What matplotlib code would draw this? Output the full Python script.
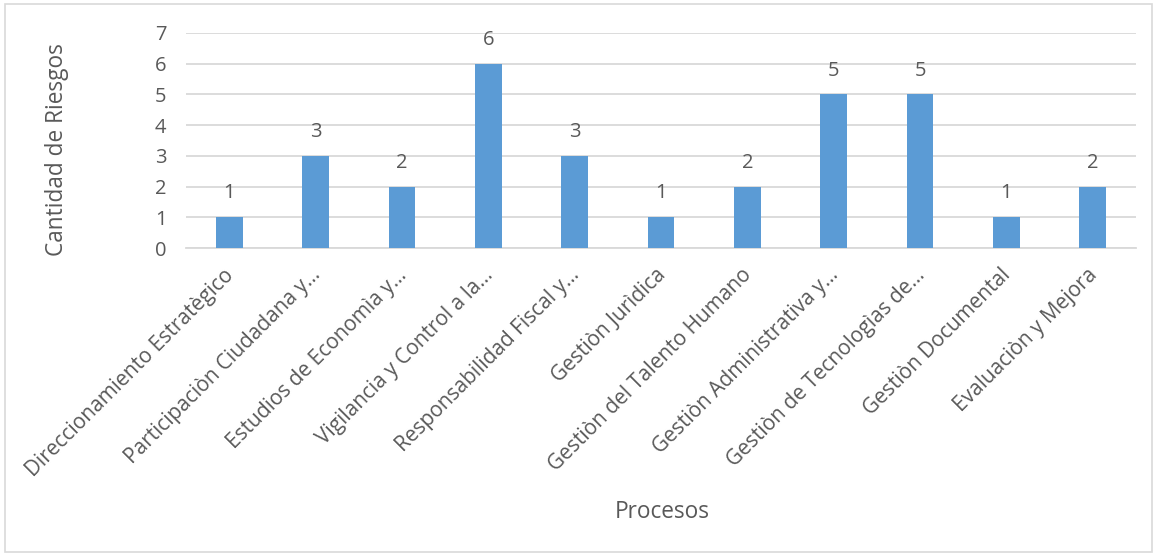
import matplotlib
matplotlib.use("Agg")
import matplotlib.pyplot as plt
from matplotlib.patches import Rectangle
from matplotlib.transforms import ScaledTranslation

categories = [
    "Direccionamiento Estratègico",
    "Participaciòn Ciudadana y...",
    "Estudios de Economìa y...",
    "Vigilancia y Control a la...",
    "Responsabilidad Fiscal y...",
    "Gestiòn Jurìdica",
    "Gestiòn del Talento Humano",
    "Gestiòn Administrativa y...",
    "Gestiòn de Tecnologìas de...",
    "Gestiòn Documental",
    "Evaluaciòn y Mejora",
]
values = [1, 3, 2, 6, 3, 1, 2, 5, 5, 1, 2]
yticks = [0, 1, 2, 3, 4, 5, 6, 7]

plt.rcParams['font.family'] = ['Open Sans', 'DejaVu Sans']
txt = '#595959'
grid = '#D9D9D9'
bar_c = '#5B9BD5'

W, H = 1158, 556
fig = plt.figure(figsize=(W/100, H/100), dpi=100)
fig.patches.append(Rectangle((5/W, 4/H), 1147/W, 548/H, transform=fig.transFigure,
                             fill=False, edgecolor=grid, linewidth=1.2))
ax = fig.add_axes([186/W, 1-248/H, 950/W, 215/H])
x = list(range(len(categories)))
bars = ax.bar(x, values, width=0.31, color=bar_c, zorder=3)
ax.set_xlim(-0.5, len(categories)-0.5)
ax.set_ylim(0, 7)
ax.set_yticks(yticks)
ax.set_yticklabels([str(t) for t in yticks], fontsize=14.5, color=txt)
ax.yaxis.grid(True, color=grid, linewidth=1.3, zorder=0)
for s in ['top', 'right', 'left']:
    ax.spines[s].set_visible(False)
ax.spines['bottom'].set_color(grid)
ax.spines['bottom'].set_linewidth(1.3)
ax.tick_params(axis='both', length=0)
ax.tick_params(axis='y', pad=14)
ax.set_xticks(x)
ax.set_xticklabels(categories, rotation=45, ha='right', va='top',
                   rotation_mode='anchor', fontsize=15, color=txt)
ax.tick_params(axis='x', pad=12)
shift = ScaledTranslation(-6/100, 0, fig.dpi_scale_trans)
for lbl in ax.get_xticklabels():
    lbl.set_transform(lbl.get_transform() + shift)
for xi, v in zip(x, values):
    ax.annotate(str(v), (xi, v), xytext=(0, 10), textcoords='offset points',
                ha='center', va='bottom', fontsize=14.5, color=txt)
fig.text(57/W, 1-150/H, 'Cantidad de Riesgos', rotation=90, ha='center', va='center',
         fontsize=16.3, color=txt)
fig.text(662/W, 1-512/H, 'Procesos', ha='center', va='center', fontsize=16.3, color=txt)
fig.savefig('out.png', dpi=100)
